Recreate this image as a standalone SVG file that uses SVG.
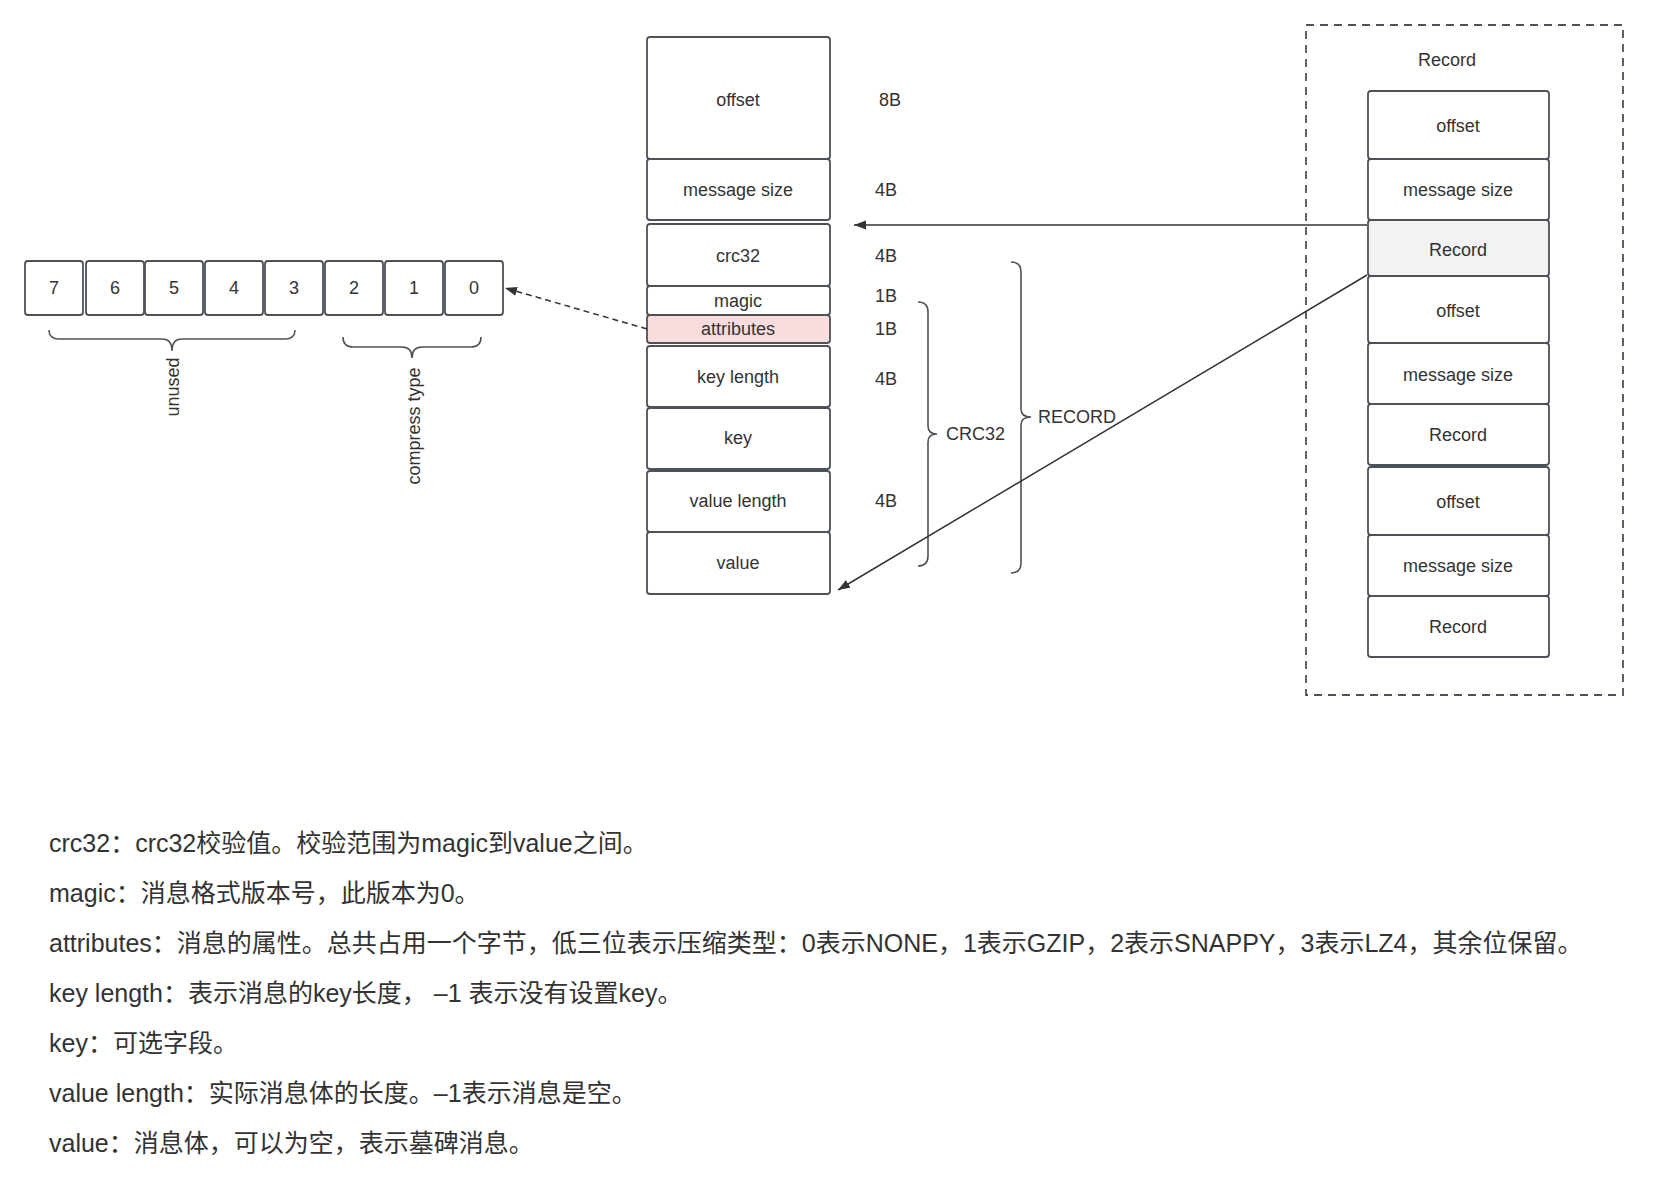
<svg xmlns="http://www.w3.org/2000/svg" width="1668" height="1181" viewBox="0 0 1668 1181">
<defs>
<style>
.box{fill:#ffffff;stroke:#4d5259;stroke-width:1.8}
.pink{fill:#fadcdc}
.gray{fill:#f2f2f2}
.t{font-family:"Liberation Sans","Noto Sans CJK SC",sans-serif;font-size:18px;fill:#333333;text-anchor:middle;dominant-baseline:central}
.tl{font-family:"Liberation Sans","Noto Sans CJK SC",sans-serif;font-size:18px;fill:#333333;text-anchor:start;dominant-baseline:central}
.note{font-family:"Liberation Sans","Noto Sans CJK SC",sans-serif;font-size:25px;fill:#333333;dominant-baseline:central}
.line{fill:none;stroke:#333333;stroke-width:1.5}
.brace{fill:none;stroke:#4d5259;stroke-width:1.6}
</style>
<marker id="arr" viewBox="0 0 12 10" refX="12" refY="5" markerWidth="12" markerHeight="10" markerUnits="userSpaceOnUse" orient="auto">
<path d="M0,0.5 L12,5 L0,9.5 z" fill="#333333"/>
</marker>
</defs>
<rect width="1668" height="1181" fill="#ffffff"/>

<g id="bits">
<g id="bit7"><rect class="box" x="25" y="261" width="58" height="54" rx="3"/><text class="t" x="54" y="288">7</text></g>
<g id="bit6"><rect class="box" x="86" y="261" width="58" height="54" rx="3"/><text class="t" x="115" y="288">6</text></g>
<g id="bit5"><rect class="box" x="145" y="261" width="58" height="54" rx="3"/><text class="t" x="174" y="288">5</text></g>
<g id="bit4"><rect class="box" x="205" y="261" width="58" height="54" rx="3"/><text class="t" x="234" y="288">4</text></g>
<g id="bit3"><rect class="box" x="265" y="261" width="58" height="54" rx="3"/><text class="t" x="294" y="288">3</text></g>
<g id="bit2"><rect class="box" x="325" y="261" width="58" height="54" rx="3"/><text class="t" x="354" y="288">2</text></g>
<g id="bit1"><rect class="box" x="385" y="261" width="58" height="54" rx="3"/><text class="t" x="414" y="288">1</text></g>
<g id="bit0"><rect class="box" x="445" y="261" width="58" height="54" rx="3"/><text class="t" x="474" y="288">0</text></g>
</g>

<g id="unused-brace">
<path class="brace" d="M49,330 Q49,339 59,339 L162,339 Q172,339 172,351 Q172,339 182,339 L285,339 Q295,339 295,330"/>
<text class="t" transform="translate(173,387) rotate(-90)">unused</text>
</g>
<g id="compress-brace">
<path class="brace" d="M343,337 Q343,347 353,347 L402,347 Q412,347 412,358 Q412,347 422,347 L471,347 Q481,347 481,337"/>
<text class="t" transform="translate(414,426) rotate(-90)">compress type</text>
</g>

<g id="message">
<g id="m-offset"><rect class="box" x="647" y="37" width="183" height="122" rx="3"/><text class="t" x="738" y="100">offset</text></g>
<g id="m-size"><rect class="box" x="647" y="159" width="183" height="61" rx="3"/><text class="t" x="738" y="190">message size</text></g>
<g id="m-crc32"><rect class="box" x="647" y="224" width="183" height="62" rx="3"/><text class="t" x="738" y="256">crc32</text></g>
<g id="m-magic"><rect class="box" x="647" y="286" width="183" height="29" rx="3"/><text class="t" x="738" y="301">magic</text></g>
<g id="m-attributes"><rect class="box pink" x="647" y="315" width="183" height="28" rx="3"/><text class="t" x="738" y="329">attributes</text></g>
<g id="m-keylength"><rect class="box" x="647" y="346" width="183" height="61" rx="3"/><text class="t" x="738" y="377">key length</text></g>
<g id="m-key"><rect class="box" x="647" y="408" width="183" height="61" rx="3"/><text class="t" x="738" y="438">key</text></g>
<g id="m-valuelength"><rect class="box" x="647" y="471" width="183" height="61" rx="3"/><text class="t" x="738" y="501">value length</text></g>
<g id="m-value"><rect class="box" x="647" y="532" width="183" height="62" rx="3"/><text class="t" x="738" y="563">value</text></g>
</g>

<g id="sizes">
<text class="t" x="890" y="100">8B</text>
<text class="t" x="886" y="190">4B</text>
<text class="t" x="886" y="256">4B</text>
<text class="t" x="886" y="296">1B</text>
<text class="t" x="886" y="329">1B</text>
<text class="t" x="886" y="379">4B</text>
<text class="t" x="886" y="501">4B</text>
</g>

<g id="crc32-brace">
<path class="brace" d="M918,302 Q928,302 928,312 L928,426 Q928,434 937,434 Q928,434 928,442 L928,556 Q928,566 918,566"/>
<text class="tl" x="946" y="434">CRC32</text>
</g>
<g id="record-brace">
<path class="brace" d="M1011,262 Q1021,262 1021,272 L1021,409 Q1021,417 1031,417 Q1021,417 1021,425 L1021,563 Q1021,573 1011,573"/>
<text class="tl" x="1038" y="417">RECORD</text>
</g>

<g id="recordset">
<rect x="1306" y="25" width="317" height="670" fill="none" stroke="#4d5259" stroke-width="1.8" stroke-dasharray="8,6"/>
<text class="t" x="1447" y="60">Record</text>
<g id="r-offset1"><rect class="box" x="1368" y="91" width="181" height="68" rx="3"/><text class="t" x="1458" y="126">offset</text></g>
<g id="r-size1"><rect class="box" x="1368" y="159" width="181" height="61" rx="3"/><text class="t" x="1458" y="190">message size</text></g>
<g id="r-record1"><rect class="box gray" x="1368" y="220" width="181" height="56" rx="3"/><text class="t" x="1458" y="250">Record</text></g>
<g id="r-offset2"><rect class="box" x="1368" y="276" width="181" height="67" rx="3"/><text class="t" x="1458" y="311">offset</text></g>
<g id="r-size2"><rect class="box" x="1368" y="343" width="181" height="61" rx="3"/><text class="t" x="1458" y="375">message size</text></g>
<g id="r-record2"><rect class="box" x="1368" y="404" width="181" height="61" rx="3"/><text class="t" x="1458" y="435">Record</text></g>
<g id="r-offset3"><rect class="box" x="1368" y="467" width="181" height="68" rx="3"/><text class="t" x="1458" y="502">offset</text></g>
<g id="r-size3"><rect class="box" x="1368" y="535" width="181" height="61" rx="3"/><text class="t" x="1458" y="566">message size</text></g>
<g id="r-record3"><rect class="box" x="1368" y="596" width="181" height="61" rx="3"/><text class="t" x="1458" y="627">Record</text></g>
</g>

<g id="connectors">
<line class="line" x1="647" y1="329" x2="505" y2="288" stroke-dasharray="6,4" marker-end="url(#arr)"/>
<line class="line" x1="1367" y1="225" x2="854" y2="225" marker-end="url(#arr)"/>
<line class="line" x1="1367" y1="275" x2="838" y2="590" marker-end="url(#arr)"/>
</g>

<g id="notes">
<text class="note" x="49" y="843">crc32：crc32校验值。校验范围为magic到value之间。</text>
<text class="note" x="49" y="893">magic：消息格式版本号，此版本为0。</text>
<text class="note" x="49" y="943">attributes：消息的属性。总共占用一个字节，低三位表示压缩类型：0表示NONE，1表示GZIP，2表示SNAPPY，3表示LZ4，其余位保留。</text>
<text class="note" x="49" y="993">key length：表示消息的key长度， –1 表示没有设置key。</text>
<text class="note" x="49" y="1043">key：可选字段。</text>
<text class="note" x="49" y="1093">value length：实际消息体的长度。–1表示消息是空。</text>
<text class="note" x="49" y="1143">value：消息体，可以为空，表示墓碑消息。</text>
</g>
</svg>
